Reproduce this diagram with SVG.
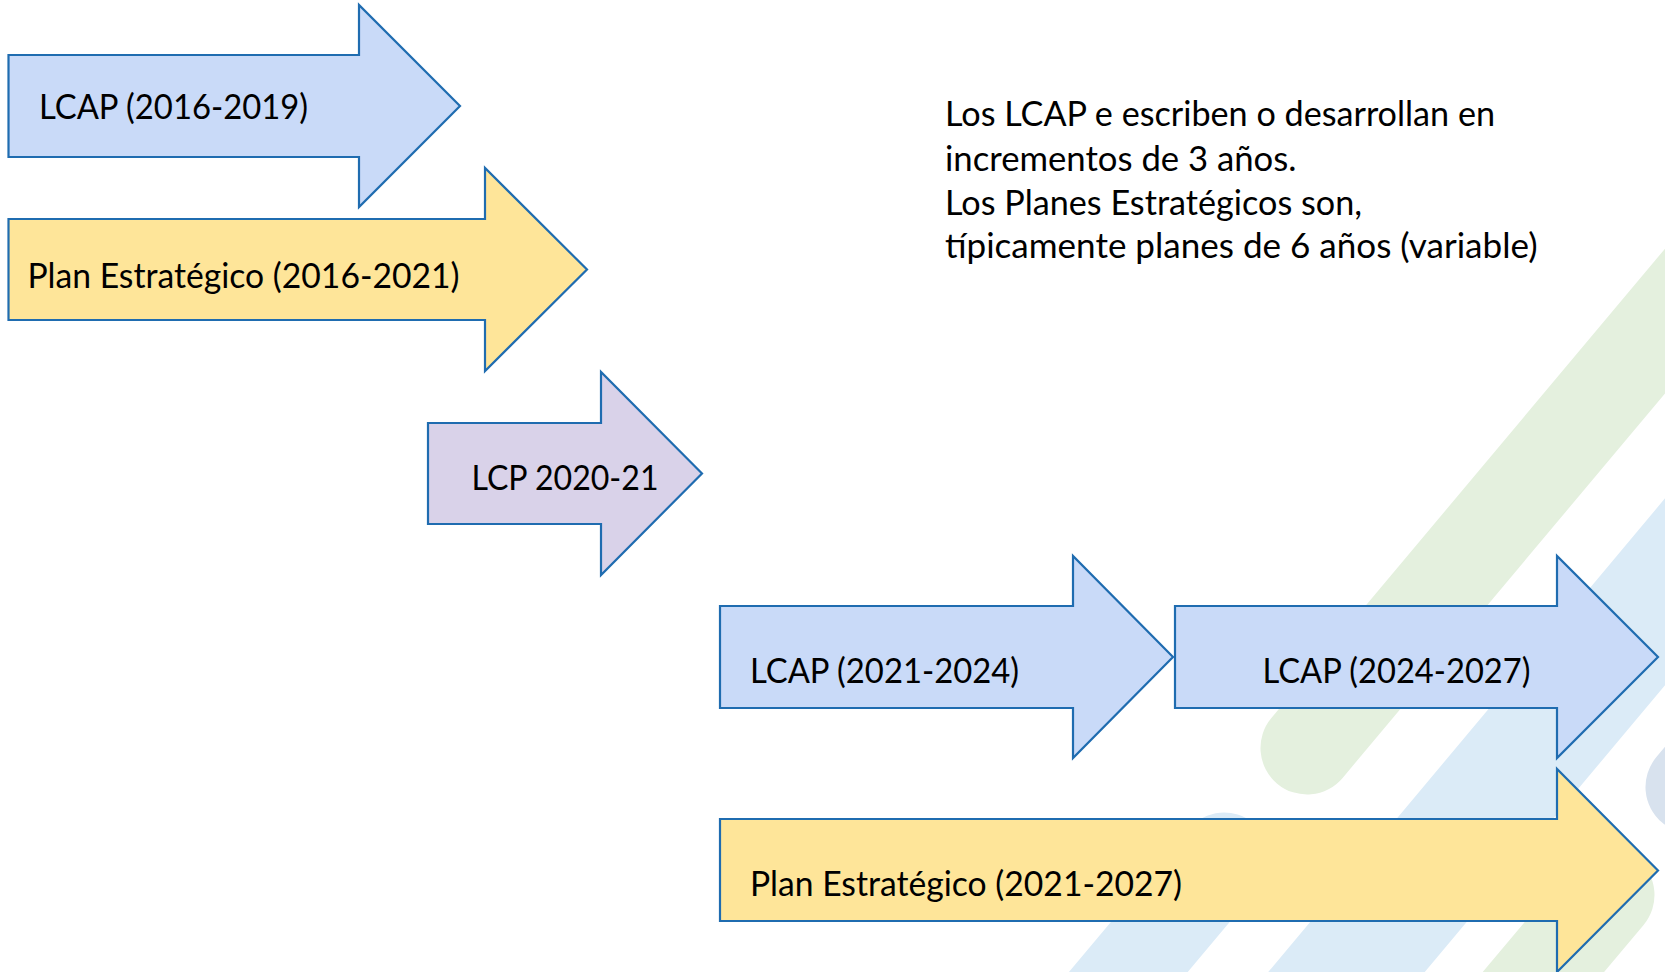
<svg xmlns="http://www.w3.org/2000/svg" width="1665" height="972" viewBox="0 0 1665 972">
<style>
.arrow{stroke:#1f6cb0;stroke-width:2.2;stroke-linejoin:miter}
.lcap{fill:#c9daf8}
.plan{fill:#fee599}
.lcp{fill:#d9d2e9}
.lbl{font-family:Lato,"Noto Sans","Liberation Sans",sans-serif;font-size:35px;fill:#000}
.note{font-family:Lato,"Noto Sans","Liberation Sans",sans-serif;font-size:34px;fill:#000}
.band{fill:none;stroke-linecap:round}
</style>
<rect width="1665" height="972" fill="#ffffff"/>
<g id="background">
<line class="band" x1="1307" y1="748" x2="1821" y2="135" stroke="#e4f0de" stroke-width="93"/>
<line class="band" x1="1282" y1="1049" x2="1860" y2="359" stroke="#dbebf7" stroke-width="120" stroke-linecap="butt"/>
<line class="band" x1="1224" y1="858" x2="1031" y2="1088" stroke="#dbebf7" stroke-width="91"/>
<line class="band" x1="1608" y1="895" x2="1415" y2="1125" stroke="#e4f0de" stroke-width="93"/>
<line class="band" x1="1692" y1="787" x2="1885" y2="557" stroke="#d8e2ee" stroke-width="93"/>
</g>
<g id="connectors"/>
<g id="lcap-2016-2019">
<path class="arrow lcap" d="M8.5,55 H359 V5 L460,106 L359,207 V157 H8.5 Z"/>
<text class="lbl" x="39" y="119" textLength="269" lengthAdjust="spacingAndGlyphs">LCAP (2016-2019)</text>
</g>
<g id="plan-2016-2021">
<path class="arrow plan" d="M8.5,219 H485 V168 L587,269.5 L485,371 V320 H8.5 Z"/>
<text class="lbl" x="27.5" y="288" textLength="432" lengthAdjust="spacingAndGlyphs">Plan Estratégico (2016-2021)</text>
</g>
<g id="lcp-2020-21">
<path class="arrow lcp" d="M428,423 H601 V372 L702,473.5 L601,575 V524 H428 Z"/>
<text class="lbl" x="471.5" y="490" textLength="187" lengthAdjust="spacingAndGlyphs">LCP 2020-21</text>
</g>
<g id="lcap-2021-2024">
<path class="arrow lcap" d="M720,606 H1073 V556 L1173,657 L1073,758 V708 H720 Z"/>
<text class="lbl" x="750" y="683" textLength="269" lengthAdjust="spacingAndGlyphs">LCAP (2021-2024)</text>
</g>
<g id="lcap-2024-2027">
<path class="arrow lcap" d="M1175,606 H1557 V556 L1658,657 L1557,758 V708 H1175 Z"/>
<text class="lbl" x="1262.5" y="683" textLength="268" lengthAdjust="spacingAndGlyphs">LCAP (2024-2027)</text>
</g>
<g id="plan-2021-2027">
<path class="arrow plan" d="M720,819 H1557 V769 L1658,870.5 L1557,972 V921 H720 Z"/>
<text class="lbl" x="750" y="896" textLength="432" lengthAdjust="spacingAndGlyphs">Plan Estratégico (2021-2027)</text>
</g>
<g id="note">
<text class="note" x="945" y="126" textLength="550" lengthAdjust="spacingAndGlyphs">Los LCAP e escriben o desarrollan en</text>
<text class="note" x="945" y="170.5" textLength="351.5" lengthAdjust="spacingAndGlyphs">incrementos de 3 años.</text>
<text class="note" x="945" y="214.5" textLength="417" lengthAdjust="spacingAndGlyphs">Los Planes Estratégicos son,</text>
<text class="note" x="945" y="258" textLength="592.5" lengthAdjust="spacingAndGlyphs">típicamente planes de 6 años (variable)</text>
</g>
</svg>
